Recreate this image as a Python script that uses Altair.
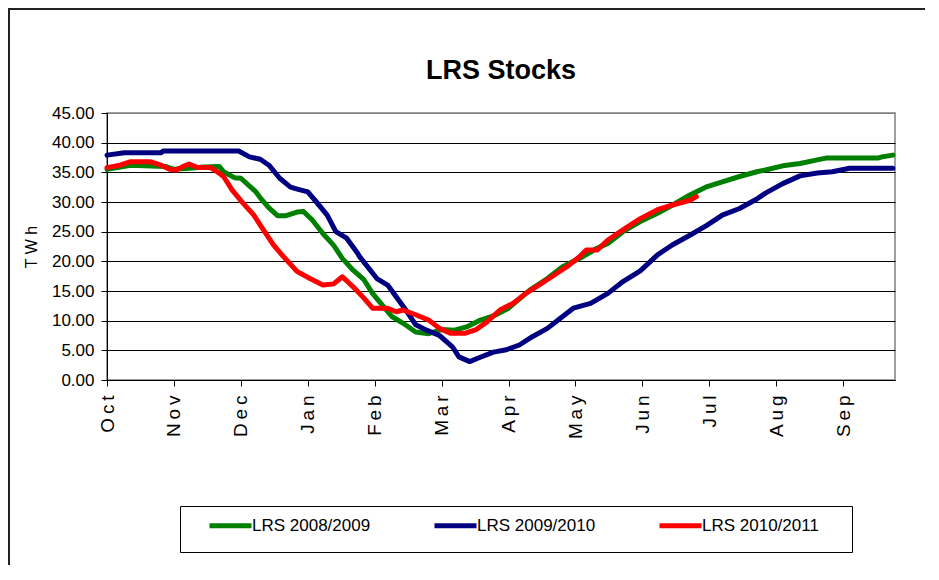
import json
import altair as alt
import pandas as pd

# ---- data ----
months = ["Oct", "Nov", "Dec", "Jan", "Feb", "Mar", "Apr", "May", "Jun", "Jul", "Aug", "Sep"]
tick_days = [0, 31, 62, 93, 124, 155, 186, 217, 248, 279, 310, 341]

series_names = ["LRS 2008/2009", "LRS 2009/2010", "LRS 2010/2011"]
series_colors = ["#008000", "#000080", "#FF0000"]

g_days = [0, 11, 27, 31, 38, 45, 52, 54, 59, 62, 69, 71, 75, 79, 83, 88, 91, 95, 100, 105,
          109, 114, 119, 123, 128, 132, 137, 143, 149, 155, 161, 167, 173, 179, 186, 196,
          204, 211, 219, 227, 232, 239, 247, 255, 262, 270, 278, 285, 293, 301, 305, 313,
          321, 329, 333, 344, 357, 359, 364]
g_vals = [35.5, 36.2, 36.0, 35.5, 35.7, 35.9, 36.0, 35.1, 34.1, 34.0, 31.7, 30.7, 29.0, 27.7,
          27.7, 28.3, 28.4, 27.0, 24.7, 22.7, 20.5, 18.5, 16.9, 14.6, 12.4, 10.7, 9.6, 8.1,
          7.8, 8.5, 8.4, 9.0, 10.1, 10.8, 12.1, 15.2, 17.1, 19.1, 20.5, 22.2, 23.0, 25.0,
          26.7, 28.1, 29.5, 31.2, 32.6, 33.4, 34.3, 35.1, 35.4, 36.1, 36.5, 37.1, 37.4, 37.4,
          37.4, 37.6, 37.9]

b_days = [0, 8, 25, 26, 61, 66, 71, 75, 80, 85, 89, 93, 97, 102, 106, 111, 116, 117, 125,
          130, 139, 143, 148, 154, 160, 163, 168, 172, 179, 185, 191, 197, 204, 210, 216,
          224, 232, 239, 247, 255, 262, 270, 278, 285, 293, 301, 305, 313, 321, 329, 336,
          344, 364]
b_vals = [37.9, 38.3, 38.3, 38.6, 38.6, 37.6, 37.2, 36.2, 34.0, 32.5, 32.1, 31.7, 30.0, 27.8,
          25.0, 23.9, 21.4, 20.8, 17.1, 16.0, 11.5, 9.3, 8.4, 7.5, 5.6, 3.9, 3.1, 3.7, 4.7,
          5.1, 5.9, 7.3, 8.7, 10.4, 12.1, 12.9, 14.6, 16.6, 18.4, 21.1, 22.8, 24.4, 26.1,
          27.8, 28.9, 30.5, 31.5, 33.1, 34.4, 34.9, 35.1, 35.7, 35.7]

r_days = [0, 6, 11, 20, 25, 29, 32, 36, 38, 42, 48, 51, 54, 58, 63, 68, 71, 77, 81, 88, 94,
          100, 105, 109, 114, 119, 123, 130, 134, 137, 143, 149, 154, 159, 166, 171, 176,
          182, 188, 194, 200, 206, 213, 219, 222, 227, 232, 239, 247, 255, 262, 270, 273]
r_vals = [35.8, 36.2, 36.8, 36.8, 36.2, 35.5, 35.4, 36.1, 36.4, 35.8, 35.8, 35.1, 34.3, 32.0,
          29.8, 27.8, 26.1, 22.8, 21.1, 18.3, 17.1, 16.0, 16.2, 17.4, 15.7, 13.8, 12.1, 12.1,
          11.5, 11.8, 11.0, 10.1, 8.7, 7.9, 7.9, 8.5, 9.8, 11.8, 12.9, 14.6, 16.0, 17.4,
          19.1, 20.8, 21.9, 21.9, 23.6, 25.3, 27.2, 28.7, 29.5, 30.3, 30.9]

y_ticks = [0, 5, 10, 15, 20, 25, 30, 35, 40, 45]

# ---- build table ----
rows = []
for name, days, vals in zip(series_names, [g_days, b_days, r_days], [g_vals, b_vals, r_vals]):
    for d, v in zip(days, vals):
        rows.append({"series": name, "day": d, "twh": v})
df = pd.DataFrame(rows)

spaced = ["\u2009".join(m) for m in months]
label_expr = json.dumps(spaced, ensure_ascii=False) + "[round(datum.value / 31)]"

FONT = "Liberation Sans, Arial, sans-serif"

lines = alt.Chart(df).mark_line(strokeWidth=5, strokeJoin="round", strokeCap="round").encode(
    x=alt.X("day:Q",
            scale=alt.Scale(domain=[0, 365], nice=False, zero=False),
            axis=alt.Axis(values=tick_days, labelExpr=label_expr, labelAngle=270,
                          title=None, grid=False, tickSize=6, labelPadding=9,
                          labelFontSize=19, labelFont=FONT, labelColor="black",
                          domainColor="black", tickColor="black", labelOverlap=False)),
    y=alt.Y("twh:Q",
            scale=alt.Scale(domain=[0, 45], nice=False),
            axis=alt.Axis(values=y_ticks, format=".2f", title="T W h", grid=True,
                          gridColor={"condition": {"test": "datum.value === 45", "value": "#808080"},
                                     "value": "#000000"},
                          gridWidth=1, tickSize=6, labelPadding=7, labelFontSize=17,
                          labelFont=FONT, labelColor="black", domainColor="black",
                          tickColor="black", titleFont=FONT, titleFontSize=16,
                          titleFontWeight="normal", titleColor="black", titlePadding=12)),
    color=alt.Color("series:N",
                    scale=alt.Scale(domain=series_names, range=series_colors),
                    legend=alt.Legend(title=None, orient="none", legendX=100, legendY=389,
                                      direction="horizontal", columns=3, columnPadding=53,
                                      symbolType="stroke", symbolSize=1764, symbolStrokeWidth=5,
                                      labelFontSize=17, labelFont=FONT, labelColor="black",
                                      labelOffset={"expr": "-2"}, padding=0)),
    order=alt.Order("day:Q"),
)

deco = pd.DataFrame({"k": [0]})
frame = alt.Chart(deco).mark_rect(fillOpacity=0, stroke="#222222", strokeWidth=2).encode(
    x=alt.value(-98), x2=alt.value(1000), y=alt.value(-104), y2=alt.value(1000))
legend_box = alt.Chart(deco).mark_rect(fill="white", stroke="black", strokeWidth=1).encode(
    x=alt.value(73.5), x2=alt.value(745.5), y=alt.value(393.5), y2=alt.value(439.5))

chart = alt.layer(frame, legend_box, lines).properties(
    width=788, height=267,
    autosize=alt.AutoSizeParams(type="none"),
    padding={"left": 99, "top": 105, "right": 30, "bottom": 185},
    title=alt.TitleParams("LRS Stocks", font=FONT,
                          fontSize=27, fontWeight="bold", color="black", anchor="middle",
                          frame="group", offset=0, baseline="alphabetic", dy=98),
    background="white",
).configure_view(stroke="#808080", strokeWidth=1.5)

chart.save("out.html", embed_options={"renderer": "svg", "actions": False})
